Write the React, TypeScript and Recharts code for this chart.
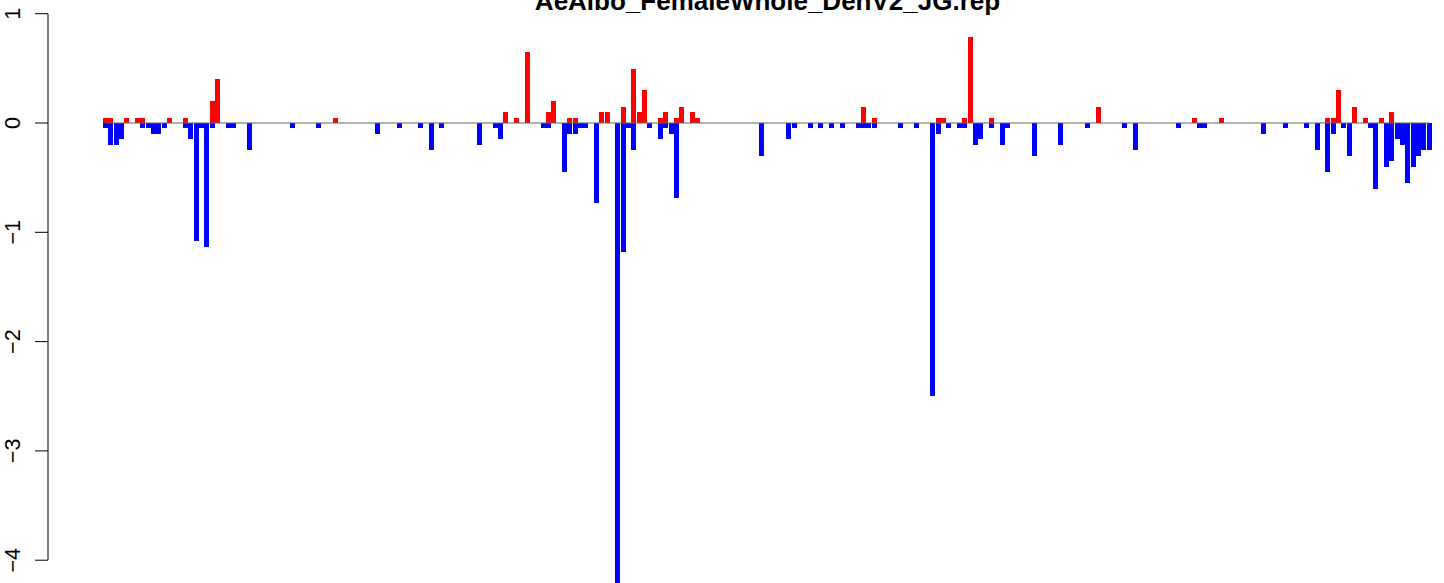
import React from "react";
import { BarChart, Bar, XAxis, YAxis, ReferenceLine } from "recharts";

// bins along the x axis (249 equal-width slots, no gaps)
const BIN_COUNT = 249;

// positive bars (red): bin index, value
const UP_BINS = [
  0, 1, 4, 6, 7, 12, 15, 20, 21, 43, 75, 77, 79, 83, 84, 87, 88, 93, 94, 97, 99, 100, 101, 104, 105,
  107, 108, 110, 111, 142, 144, 156, 157, 161, 162, 166, 186, 204, 209, 229, 230, 231, 234, 236, 239, 241,
];
const UP_VALUES = [
  0.05, 0.05, 0.05, 0.05, 0.05, 0.05, 0.05, 0.2, 0.4, 0.05, 0.1, 0.05, 0.65, 0.1, 0.2, 0.05, 0.05, 0.1, 0.1, 0.15, 0.49, 0.1, 0.3, 0.05, 0.1,
  0.05, 0.15, 0.1, 0.05, 0.15, 0.05, 0.05, 0.05, 0.05, 0.79, 0.05, 0.15, 0.05, 0.05, 0.05, 0.05, 0.3, 0.15, 0.05, 0.05, 0.1,
];

// negative bars (blue): bin index, value
const DOWN_BINS = [
  0, 1, 2, 3, 7, 8, 9, 10, 11, 15, 16, 17, 18, 19, 20, 23, 24, 27, 35, 40, 51, 55, 59, 61, 63,
  70, 73, 74, 82, 83, 86, 87, 88, 89, 90, 92, 96, 97, 98, 99, 102, 104, 105, 106, 107, 123, 128, 129, 132, 134,
  136, 138, 141, 142, 143, 144, 149, 152, 155, 156, 158, 160, 161, 163, 164, 166, 168, 169, 174, 179, 184, 191, 193, 201, 205,
  206, 217, 221, 225, 227, 229, 230, 232, 233, 237, 238, 240, 241, 242, 243, 244, 245, 246, 247, 248,
];
const DOWN_VALUES = [
  -0.05, -0.2, -0.2, -0.15, -0.05, -0.05, -0.1, -0.1, -0.05, -0.05, -0.15, -1.08, -0.05, -1.13, -0.05, -0.05, -0.05, -0.25, -0.05, -0.05, -0.1, -0.05, -0.05, -0.25, -0.05,
  -0.2, -0.05, -0.15, -0.05, -0.05, -0.45, -0.1, -0.1, -0.05, -0.05, -0.73, -4.25, -1.18, -0.05, -0.25, -0.05, -0.15, -0.05, -0.1, -0.69, -0.3, -0.15, -0.05, -0.05, -0.05,
  -0.05, -0.05, -0.05, -0.05, -0.05, -0.05, -0.05, -0.05, -2.5, -0.1, -0.05, -0.05, -0.05, -0.2, -0.15, -0.05, -0.2, -0.05, -0.3, -0.2, -0.05, -0.05, -0.25, -0.05, -0.05,
  -0.05, -0.1, -0.05, -0.05, -0.25, -0.45, -0.1, -0.05, -0.3, -0.05, -0.6, -0.4, -0.35, -0.15, -0.2, -0.55, -0.4, -0.3, -0.25, -0.25,
];

const Y_TICKS = [1, 0, -1, -2, -3, -4];
const TITLE = "AeAlbo_FemaleWhole_DenV2_JG.rep";

const W = 1444;
const H = 583;
const Y_MAX = 1.1253;
const Y_MIN = -4.2086;
const PX_PER_UNIT = H / (Y_MAX - Y_MIN);
const TICK_SIZE = 13;
const FONT = "'Liberation Sans', Arial, Helvetica, sans-serif";

const data = Array.from({ length: BIN_COUNT }, (_, i) => ({ bin: i + 1, up: 0, down: 0 }));
UP_BINS.forEach((b, i) => (data[b].up = UP_VALUES[i]));
DOWN_BINS.forEach((b, i) => (data[b].down = DOWN_VALUES[i]));

// R-style y tick: label parallel to the axis, axis line only between first and last tick
function YTick(props: any) {
  const { x, y, payload } = props;
  const v = payload.value as number;
  const axisX = x + TICK_SIZE;
  const label = v < 0 ? "\u2212" + Math.abs(v) : String(v);
  const tx = axisX - 28;
  return (
    <g>
      {v !== Y_TICKS[Y_TICKS.length - 1] && (
        <line x1={axisX} x2={axisX} y1={y} y2={y + PX_PER_UNIT} stroke="#000" strokeWidth={1} />
      )}
      <text
        x={tx}
        y={y}
        transform={`rotate(-90, ${tx}, ${y})`}
        textAnchor="middle"
        fontSize={21.6}
        fontFamily={FONT}
        fill="#000"
      >
        {label}
      </text>
    </g>
  );
}

export default function App() {
  return (
    <div style={{ position: "absolute", left: 0, top: 0, width: W, height: H, background: "#fff", overflow: "hidden" }}>
      <BarChart
        width={W}
        height={H}
        data={data}
        margin={{ top: 0, right: 0, bottom: 0, left: 0 }}
        barCategoryGap={0}
        barGap={0}
        stackOffset="sign"
      >
        <XAxis dataKey="bin" hide padding={{ left: 55, right: 12 }} />
        <YAxis
          type="number"
          width={48}
          domain={[Y_MIN, Y_MAX]}
          ticks={Y_TICKS}
          interval={0}
          allowDataOverflow
          axisLine={false}
          tickSize={TICK_SIZE}
          tickMargin={0}
          tickLine={{ stroke: "#000" }}
          tick={<YTick />}
        />
        <ReferenceLine
          segment={[
            { x: 1, y: 0 },
            { x: BIN_COUNT, y: 0 },
          ]}
          stroke="#666"
          strokeWidth={1}
        />
        <Bar dataKey="up" stackId="s" fill="#ff0000" isAnimationActive={false} shapeRendering="crispEdges" />
        <Bar dataKey="down" stackId="s" fill="#0000ff" isAnimationActive={false} shapeRendering="crispEdges" />
      </BarChart>
      <div
        style={{
          position: "absolute",
          left: 0,
          top: -12,
          width: 1535,
          textAlign: "center",
          fontFamily: FONT,
          fontWeight: "bold",
          fontSize: 26,
          lineHeight: "26px",
          color: "#000",
          whiteSpace: "nowrap",
        }}
      >
        {TITLE}
      </div>
    </div>
  );
}
